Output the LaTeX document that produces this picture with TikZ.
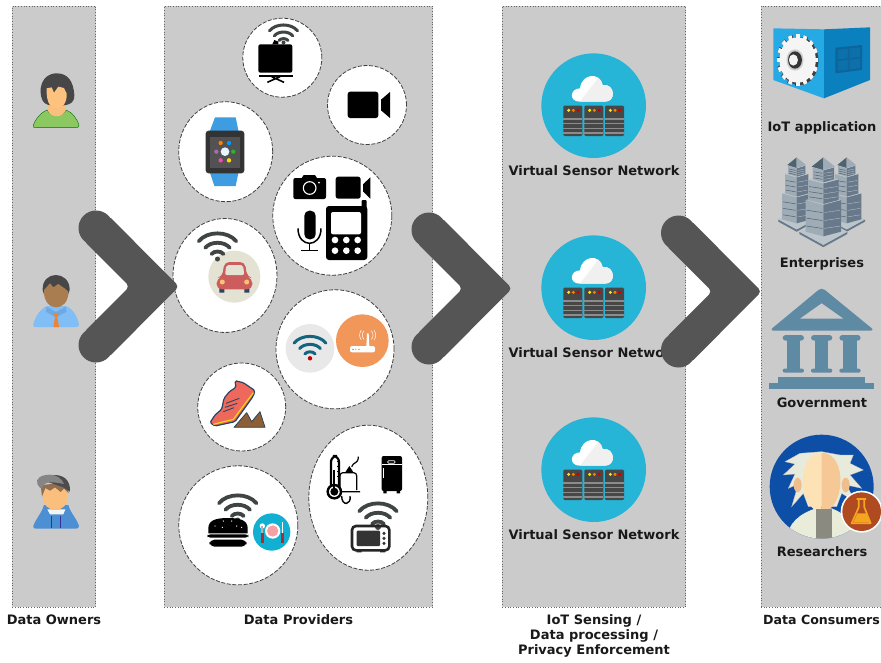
\documentclass[tikz,border=0pt]{standalone}
\usepackage{fontspec}
\setmainfont{DejaVu Sans}
\usetikzlibrary{shapes.geometric}
\definecolor{panelgray}{HTML}{CBCBCB}
\definecolor{chev}{HTML}{555555}
\definecolor{wifigray}{HTML}{3F4543}
\definecolor{teal1}{HTML}{11657F}
\definecolor{sky}{HTML}{26B5D6}
\definecolor{govblue}{HTML}{5F8AA3}
\definecolor{navy}{HTML}{2B4560}
\tikzset{
  panel/.style={draw=gray!80!black,dotted,line width=.7pt,fill=panelgray},
  bubble/.style={draw=black!75,dash pattern=on 4pt off 1.6pt,line width=.8pt,fill=white,ellipse,inner sep=0pt},
  label/.style={font=\fontsize{13}{15}\selectfont\bfseries,text=black!90,inner sep=0pt,align=center},
  chevron/.style={fill=chev,rounded corners=4pt},
  z1/.style={shift={(165,0)},scale=1/3},
  z2/.style={shift={(165,290)},scale=1/3},
  z3/.style={shift={(750,0)},scale=1/3},
  z4/.style={shift={(750,280)},scale=1/3},
  z5/.style={shift={(0,60)},scale=1/3},
  z7/.style={shift={(0,460)},scale=1/3}
}
\newcommand{\wifiicon}[5]{% x y scale colour width
  \begin{scope}[shift={(#1,#2)},scale=#3]
    \draw[#4,line width=#5,line cap=round] (-14.1,-14.1) .. controls (-7.8,-22) and (7.8,-22) .. (14.1,-14.1);
    \draw[#4,line width=#5,line cap=round] (-9.2,-9.2) .. controls (-5.1,-14.2) and (5.1,-14.2) .. (9.2,-9.2);
    \draw[#4,line width=#5,line cap=round] (-4.5,-4.5) .. controls (-2.5,-7) and (2.5,-7) .. (4.5,-4.5);
  \end{scope}}
\newcommand{\chevronshape}[2]{% sharp tip x y
  \begin{scope}[shift={(#1,#2)}]
    \fill[chev] (-83,-58.5) circle[radius=17.5] (-83,58.5) circle[radius=17.5];
    \fill[chevron] (0,0) -- (-70.6,-71) -- (-95.4,-46.1) -- (-49.5,0) -- (-95.4,46.1) -- (-70.6,71) -- cycle;
  \end{scope}}
\newcommand{\vsnicon}[1]{%
  \begin{scope}[shift={(500,#1)},scale=1/3]
    \fill[sky] (281,197) circle[radius=157];
    \fill[white] (240,185) .. controls (205,185) and (210,145) .. (240,145)
      .. controls (245,100) and (300,95) .. (308,135)
      .. controls (345,130) and (350,185) .. (315,185) -- cycle;
    \fill[black!6] (315,185) .. controls (350,185) and (345,130) .. (308,135) .. controls (306,125) and (300,118) .. (295,113) -- (240,185) -- cycle;
    \foreach \sx in {190,253,315} {
      \fill[black!72,rounded corners=1.2pt] (\sx,197) rectangle ++(57,91);
      \foreach \ly in {235,249,263,277} \fill[black!45] (\sx,\ly) rectangle ++(57,3.5);
      \fill[yellow!90!orange] (\sx+16,211) circle[radius=5];
      \fill[orange] (\sx+30,211) circle[radius=5];
      \fill[red!80!black] (\sx+44,211) circle[radius=5];
    }
  \end{scope}}
\definecolor{bleft}{HTML}{9FACB5}
\definecolor{bright}{HTML}{67798A}
\definecolor{bdark}{HTML}{4F6270}
\newcommand{\tier}[5]{% cx halfw ytop ybot slant
  \fill[bleft] (#1-#2,#3) -- (#1,#3+#5) -- (#1,#4+#5) -- (#1-#2,#4) -- cycle;
  \fill[bright] (#1+#2,#3) -- (#1,#3+#5) -- (#1,#4+#5) -- (#1+#2,#4) -- cycle;
  \fill[bleft!70!white] (#1-#2,#3) -- (#1,#3-#5) -- (#1+#2,#3) -- (#1,#3+#5) -- cycle;
  \foreach \wf in {.25,.5,.75} {
    \draw[bdark,line width=.5pt] (#1-#2+3,#3+#5*.5+\wf*#4-\wf*#3) -- (#1-3,#3+#5+\wf*#4-\wf*#3);
    \draw[black!20,line width=.3pt] (#1+3,#3+#5+\wf*#4-\wf*#3) -- (#1+#2-3,#3+#5*.5+\wf*#4-\wf*#3);
  }
}
\newcommand{\roofbase}[6]{% cx apexy halfw shouldery basehalf basey
  \fill[bright] (#1-#5,#6) -- (#1,#6+#5*.55) -- (#1+#5,#6) -- (#1+#5,#6+7) -- (#1,#6+#5*.55+7) -- (#1-#5,#6+7) -- cycle;
  \fill[bleft!70!white] (#1-#5,#6) -- (#1,#6-#5*.55) -- (#1+#5,#6) -- (#1,#6+#5*.55) -- cycle;
}
\begin{document}
\begin{tikzpicture}[x=1pt,y=-1pt]
\useasboundingbox (0,0) rectangle (881,662);
\clip (0,0) rectangle (881,662);
\fill[white] (0,0) rectangle (881,662);
% panels
\node[panel,minimum width=83.5pt,minimum height=601pt,inner sep=0pt] (owners) at (54,306.5) {};
\node[panel,minimum width=268.5pt,minimum height=601pt,inner sep=0pt] (providers) at (298.5,306.5) {};
\node[panel,minimum width=183.5pt,minimum height=601pt,inner sep=0pt] (sensing) at (594,306.5) {};
\node[panel,minimum width=130pt,minimum height=601pt,inner sep=0pt] (consumers) at (826,306.5) {};
% bubbles
\node[bubble,minimum width=79pt,minimum height=79pt] (c1) at (282.3,57.7) {};
\node[bubble,minimum width=79pt,minimum height=79pt] (c2) at (367,105) {};
\node[bubble,minimum width=94pt,minimum height=100pt] (c3) at (225.7,151.7) {};
\node[bubble,minimum width=119pt,minimum height=119pt] (c4) at (332.3,215.7) {};
\node[bubble,minimum width=104pt,minimum height=114pt] (c5) at (225,275.5) {};
\node[bubble,minimum width=118pt,minimum height=119pt] (c6) at (335,349.3) {};
\node[bubble,minimum width=88pt,minimum height=88pt] (c7) at (241.7,407) {};
\node[bubble,minimum width=119pt,minimum height=119pt] (c8) at (238.3,525.3) {};
\node[bubble,minimum width=119pt,minimum height=145pt] (c9) at (368.3,497.7) {};
% projector
\wifiicon{283.5}{45}{1}{wifigray}{3pt}
\fill[wifigray] (283.5,42.5) circle[radius=2];
\begin{scope}[z1]
  \fill[black,rounded corners=2pt] (280,133) rectangle (382,218);
  \fill[black] (328,120) -- (340,125) -- (340,133) -- (322,133) -- cycle;
  \fill[black] (282,224) rectangle (384,230);
  \draw[black,line width=1.6pt] (345,230) -- (307,247) (320,230) -- (357,247);
\end{scope}
% video camera
\begin{scope}[z1]
  \fill[black,rounded corners=2.5pt] (548,275) rectangle (640,354);
  \fill[black] (648,299) -- (675,276) -- (675,354) -- (648,331) -- cycle;
\end{scope}
% watch
\begin{scope}[z1]
  \fill[fill={rgb,255:red,61;green,157;blue,224}] (150,352) -- (212,352) -- (222,400) -- (132,400) -- cycle;
  \fill[fill={rgb,255:red,61;green,157;blue,224}] (132,510) -- (222,510) -- (212,558) -- (148,558) -- cycle;
  \fill[black!80,rounded corners=3pt] (122,392) rectangle (238,520);
  \fill[black!68] (135,410) rectangle (225,503);
  \fill[cyan!10!white] (180,455) circle[radius=13];
  \fill[orange] (167,429) circle[radius=6.5];
  \fill[blue!40!cyan] (192,429) circle[radius=6.5];
  \fill[violet!60] (154,455) circle[radius=6.5];
  \fill[green!60!black!80] (205,455) circle[radius=6.5];
  \fill[magenta!70] (167,481) circle[radius=6.5];
  \fill[yellow!80!orange] (192,481) circle[radius=6.5];
\end{scope}
% camera, video, mic, phone
\begin{scope}[z1]
  \fill[black,rounded corners=2pt] (385,534) rectangle (483,597);
  \fill[black] (410,534) -- (416,525) -- (450,525) -- (456,534) -- cycle;
  \draw[white,line width=1.1pt] (434,564) circle[radius=19];
  \fill[white] (462,548) circle[radius=3];
  \fill[black,rounded corners=2.5pt] (512,530) rectangle (587,596);
  \fill[black] (594,553) -- (616,532) -- (616,596) -- (594,574) -- cycle;
  \fill[black,rounded corners=5pt] (418,632) rectangle (452,718);
  \draw[black,line width=1.5pt] (399,685) .. controls (399,745) and (468,745) .. (468,685);
  \draw[black,line width=1.5pt] (433,732) -- (433,752) (408,752) -- (458,752);
  \fill[black,rounded corners=3pt] (483,618) rectangle (607,780);
  \fill[black,rounded corners=1pt] (590,600) rectangle (605,625);
  \fill[white,rounded corners=2pt] (498,636) rectangle (588,703);
  \foreach \bx in {510,544,578} \foreach \by in {720,752} \fill[white] (\bx,\by) circle[radius=10];
\end{scope}
% car
\begin{scope}[z1]
  \fill[fill={rgb,255:red,227;green,226;blue,211}] (208,830) circle[radius=78];
\end{scope}
\wifiicon{217.5}{260}{1.33}{wifigray}{3.8pt}
\fill[wifigray] (217.5,259) circle[radius=2.5];
\begin{scope}[z1]
  \fill[navy] (163,860) rectangle (178,878) (238,860) rectangle (253,878);
  \fill[fill={rgb,255:red,205;green,92;blue,92},rounded corners=5pt] (172,830) -- (178,786) -- (240,786) -- (246,830) -- (262,835) -- (262,868) -- (155,868) -- (155,835) -- cycle;
  \fill[fill={rgb,255:red,227;green,226;blue,211},rounded corners=2pt] (184,795) -- (234,795) -- (238,825) -- (180,825) -- cycle;
  \fill[fill={rgb,255:red,250;green,196;blue,110}] (172,846) circle[radius=7.5] (245,846) circle[radius=7.5];
\end{scope}
% wifi + router
\begin{scope}[z2]
  \fill[black!9] (435,175) circle[radius=73];
  \fill[fill={rgb,255:red,242;green,151;blue,90}] (592,152) circle[radius=79];
  \fill[white,rounded corners=2pt] (555,168) rectangle (630,187);
  \fill[white] (604,168) -- (606,130) -- (611,130) -- (613,168) -- cycle;
  \draw[white,line width=.5pt] (597,122) .. controls (590,132) and (590,140) .. (597,148)
    (619,122) .. controls (626,132) and (626,140) .. (619,148)
    (589,120) .. controls (582,132) and (582,140) .. (589,150)
    (627,120) .. controls (634,132) and (634,140) .. (627,150);
  \fill[cyan!70!black] (564,178) circle[radius=2.5];
  \fill[cyan!50] (572,178) circle[radius=2.5];
  \fill[orange] (582,178) circle[radius=2.5];
\end{scope}
\wifiicon{310}{359}{1.13}{teal1}{3pt}
\fill[red!80!black] (310,358.3) circle[radius=2.2];
% shoe
\begin{scope}[shift={(200,370)},scale=1/3]
  \fill[draw=navy,line width=1.2pt,rounded corners=1.5pt,fill={rgb,255:red,238;green,105;blue,92}] (105,32) -- (130,38) -- (165,62) -- (160,78) -- (105,155) -- (45,168) -- (30,158) -- (45,135) -- (65,118) -- (72,85) -- (88,65) -- (108,52) -- cycle;
  \draw[draw=yellow!80!orange,line width=1.1pt] (160,68) -- (100,148) -- (40,163);
  \draw[draw=navy,line width=.9pt] (78,100) -- (118,85) (75,112) -- (112,100) (70,125) -- (102,113);
  \fill[draw=navy,line width=.8pt,line join=round,fill={rgb,255:red,140;green,95;blue,55}] (102,172) -- (140,128) -- (155,155) -- (180,125) -- (195,172) -- cycle;
\end{scope}
% burger + plate
\wifiicon{237.7}{522}{1.33}{wifigray}{3.8pt}
\fill[wifigray] (237.7,520) circle[radius=2.5];
\begin{scope}[z2]
  \fill[black] (130,730) -- (130,715) .. controls (130,692) and (150,684) .. (189,684) .. controls (228,684) and (248,692) .. (248,715) -- (248,730) -- cycle;
  \foreach \dx/\dy in {150/708,175/693,200/693,172/712,215/708,230/712} \fill[white] (\dx,\dy) circle[radius=2];
  \fill[black,rounded corners=3pt] (127,733) rectangle (250,743);
  \fill[black,rounded corners=5pt] (133,749) rectangle (245,770);
  \fill[fill={rgb,255:red,17;green,176;blue,210}] (320,726) circle[radius=56];
  \fill[white] (323,723) circle[radius=23];
  \fill[fill={rgb,255:red,244;green,160;blue,165}] (323,723) circle[radius=17];
  \fill[white] (292,708) circle[radius=8];
  \fill[black!30] (289,708) rectangle (295,760);
  \fill[fill={rgb,255:red,160;green,50;blue,50}] (288,730) rectangle (296,760);
  \fill[white] (351,697) -- (355,697) -- (355,730) -- (351,730) -- cycle;
  \fill[fill={rgb,255:red,160;green,50;blue,50}] (349,730) rectangle (357,760);
\end{scope}
% appliances
\begin{scope}[z2]
  \draw[black,line width=2.2pt,rounded corners=6pt] (498,588) -- (498,498) -- (522,498) -- (522,588);
  \draw[black,line width=2.4pt,fill=white] (508,605) circle[radius=20];
  \fill[black] (508,605) circle[radius=12];
  \fill[black] (505,540) rectangle (511,600);
  \draw[black,line width=.9pt] (522,515) -- (515,515) (522,530) -- (515,530) (522,545) -- (515,545) (522,560) -- (515,560);
  \draw[black,line width=1.2pt,rounded corners=3pt] (525,600) -- (525,548) -- (575,548) -- (575,600) (527,605) -- (585,605) (560,530) .. controls (565,515) and (580,522) .. (580,500);
  \fill[black] (540,548) -- (553,528) -- (566,548) -- cycle;
  \draw[black,line width=1.4pt] (530,618) .. controls (530,650) and (560,645) .. (555,618);
  \fill[black,rounded corners=2pt] (650,498) rectangle (711,603);
  \fill[white] (650,522) rectangle (711,524);
  \draw[white,line width=.8pt,rounded corners=1pt] (668,512) rectangle (690,520);
  \draw[white,line width=.8pt] (656,535) -- (656,565);
  \fill[black] (655,603) rectangle (665,610) (695,603) rectangle (705,610);
\end{scope}
\wifiicon{378}{530}{1.33}{wifigray}{3.8pt}
\fill[wifigray] (378,527) circle[radius=3];
\begin{scope}[z2]
  \draw[black!85,line width=2.6pt,rounded corners=4pt] (561,708) rectangle (673,781);
  \fill[black!80,rounded corners=1pt] (575,722) rectangle (645,768);
  \foreach \my in {730,745,760} \fill[black!80] (657,\my) circle[radius=5];
  \fill[black!85] (575,781) rectangle (590,787) (645,781) rectangle (660,787);
\end{scope}
% persons
\begin{scope}[z5]
  % woman
  \fill[draw=green!45!black,line width=.4pt,fill={rgb,255:red,140;green,200;blue,98}] (100,196) .. controls (105,178) and (125,155) .. (142,150) .. controls (150,172) and (190,172) .. (198,150) .. controls (215,155) and (233,178) .. (237,196) .. controls (238,202) and (232,203) .. (228,203) -- (108,203) .. controls (102,203) and (98,202) .. (100,196) -- cycle;
  \fill[fill={rgb,255:red,250;green,190;blue,125}] (143,130) rectangle (195,152);
  \fill[fill={rgb,255:red,250;green,190;blue,125}] (143,150) .. controls (150,175) and (190,175) .. (197,150) -- cycle;
  \fill[black!72] (170,40) .. controls (125,40) and (112,90) .. (128,122) .. controls (135,135) and (150,138) .. (170,136) .. controls (195,138) and (225,135) .. (223,105) .. controls (220,65) and (205,40) .. (170,40) -- cycle;
  \fill[fill={rgb,255:red,252;green,194;blue,126}] (140,85) -- (155,82) -- (162,98) -- (175,80) -- (192,84) -- (200,100) .. controls (202,130) and (185,146) .. (170,146) .. controls (153,146) and (138,130) .. (140,85) -- cycle;
  % man
  \fill[fill={rgb,255:red,128;green,190;blue,245}] (100,794) .. controls (105,770) and (122,745) .. (142,738) -- (197,738) .. controls (218,745) and (233,770) .. (237,794) .. controls (238,800) and (232,801) .. (228,801) -- (108,801) .. controls (102,801) and (98,800) .. (100,794) -- cycle;
  \fill[fill={rgb,255:red,110;green,170;blue,225}] (140,740) -- (168,756) -- (197,740) -- (200,755) -- (175,768) -- (168,762) -- (160,768) -- (138,755) -- cycle;
  \fill[fill={rgb,255:red,238;green,132;blue,50}] (160,760) -- (176,760) -- (172,772) -- (177,801) -- (160,801) -- (165,772) -- cycle;
  \fill[black!72] (128,690) .. controls (125,630) and (210,630) .. (209,690) .. controls (205,730) and (130,730) .. (128,690) -- cycle;
  \fill[fill={rgb,255:red,170;green,125;blue,80}] (132,690) -- (150,670) -- (160,682) -- (175,672) -- (195,686) -- (205,695) .. controls (205,730) and (185,742) .. (168,742) .. controls (150,742) and (130,725) .. (132,690) -- cycle;
\end{scope}
\begin{scope}[z7]
  % boy
  \fill[fill={rgb,255:red,76;green,143;blue,211}] (100,198) .. controls (108,175) and (125,160) .. (132,135) -- (205,135) .. controls (212,160) and (230,175) .. (237,198) .. controls (238,204) and (232,206) .. (228,206) -- (108,206) .. controls (102,206) and (98,204) .. (100,198) -- cycle;
  \fill[white!92!gray] (142,148) -- (196,148) -- (190,163) -- (150,163) -- cycle;
  \draw[blue!50!black!80,line width=.4pt] (155,168) -- (155,205) (180,168) -- (180,205);
  \fill[fill={rgb,255:red,250;green,190;blue,125}] (128,105) .. controls (126,165) and (206,165) .. (204,105) .. controls (204,60) and (128,60) .. (128,105) -- cycle;
  \fill[fill={rgb,255:red,145;green,110;blue,80}] (126,110) -- (122,75) -- (200,68) -- (206,100) -- (192,86) -- (182,96) -- (165,82) -- (150,92) -- (136,84) -- cycle;
  \fill[black!70] (150,46) .. controls (190,40) and (212,60) .. (210,95) -- (190,82) -- (140,65) -- cycle;
  \fill[black!48] (150,44) .. controls (125,44) and (105,55) .. (112,72) .. controls (120,85) and (125,90) .. (128,80) .. controls (132,68) and (145,62) .. (192,72) .. controls (185,55) and (170,45) .. (150,44) -- cycle;
\end{scope}
% virtual sensor network icons
\vsnicon{40}
\vsnicon{222}
\vsnicon{404}
% IoT application cube
\begin{scope}[z3]
  \fill[fill={rgb,255:red,38;green,170;blue,230}] (70,85) -- (222,88) -- (222,295) -- (70,240) -- cycle;
  \fill[fill={rgb,255:red,10;green,128;blue,190}] (222,88) -- (360,82) -- (360,240) -- (222,295) -- cycle;
  \fill[fill={rgb,255:red,14;green,100;blue,155}] (256,143) -- (336,135) -- (336,210) -- (256,220) -- cycle;
  \fill[fill={rgb,255:red,12;green,112;blue,170}] (263,149) -- (330,142) -- (330,204) -- (263,213) -- cycle;
  \draw[draw={rgb,255:red,14;green,100;blue,155},line width=1.4pt] (296,145) -- (296,209) (263,181) -- (330,173);
  \begin{scope}[shift={(143,180)},xscale=.8]
    \fill[black!75] (6,3) circle[radius=72];
    \foreach \ang in {0,22.5,...,337.5} \fill[black!75,rotate=\ang] (-6,-78) rectangle ++(16,20);
    \fill[white!92!gray] (0,0) circle[radius=68];
    \foreach \ang in {0,22.5,...,337.5} \fill[white!92!gray,rotate=\ang] (-7,-78) rectangle ++(14,20);
    \fill[black!20] (-10,0) circle[radius=32];
    \fill[black!80] (-10,0) circle[radius=26];
    \fill[white!90!gray] (-16,0) circle[radius=17];
  \end{scope}
\end{scope}
% Enterprises towers
\begin{scope}[shift={(770,150)},scale=1/3]
  \foreach \tx in {80,230} {
    \roofbase{\tx}{22}{28}{45}{55}{208}
    \tier{\tx}{44}{130}{208}{12}
    \tier{\tx}{35}{72}{130}{10}
    \tier{\tx}{26}{47}{72}{8}
    \fill[bdark] (\tx-28,45) -- (\tx,22) -- (\tx,54) -- cycle;
    \fill[bleft] (\tx+28,45) -- (\tx,22) -- (\tx,54) -- cycle;
  }
  \roofbase{160}{22}{35}{50}{72}{245}
  \tier{160}{53}{150}{245}{14}
  \tier{160}{46}{88}{150}{12}
  \tier{160}{32}{52}{88}{9}
  \fill[bdark] (125,50) -- (160,22) -- (160,60) -- cycle;
  \fill[bleft] (195,50) -- (160,22) -- (160,60) -- cycle;
\end{scope}
% Government
\begin{scope}[z4]
  \fill[govblue,rounded corners=4pt] (215,22) -- (374,152) -- (58,152) -- cycle;
  \fill[panelgray] (215,70) -- (280,116) -- (150,116) -- cycle;
  \foreach \cx in {130,215,300} {
    \fill[govblue,rounded corners=3pt] (\cx-32,165) rectangle (\cx+32,182);
    \fill[govblue] (\cx-20,180) rectangle (\cx+20,268);
    \fill[govblue,rounded corners=2pt] (\cx-32,266) rectangle (\cx+32,278);
  }
  \fill[govblue] (85,290) rectangle (345,308);
  \fill[govblue] (58,308) rectangle (372,327);
\end{scope}
% Researcher
\begin{scope}[z4]
  \fill[fill={rgb,255:red,13;green,78;blue,166}] (215,620) circle[radius=156];
  \begin{scope}
    \clip (215,620) circle[radius=156];
    \fill[fill={rgb,255:red,232;green,236;blue,216}] (110,780) .. controls (112,730) and (150,700) .. (198,685) -- (245,685) .. controls (285,700) and (330,740) .. (330,780) -- cycle;
    \fill[fill={rgb,255:red,232;green,234;blue,220},draw=black!25,line width=.3pt] (150,520) -- (105,545) -- (135,552) -- (100,585) -- (135,582) -- (115,625) -- (145,612) -- (125,680) -- (160,640) -- (175,680) -- (260,680) -- (275,640) -- (315,665) -- (290,615) -- (335,625) -- (300,585) -- (340,570) -- (300,550) -- (310,525) -- (270,525) -- (215,515) -- cycle;
    \fill[fill={rgb,255:red,240;green,190;blue,140}] (143,615) ellipse[x radius=12,y radius=22];
    \fill[fill={rgb,255:red,240;green,190;blue,140}] (287,615) ellipse[x radius=12,y radius=22];
    \fill[fill={rgb,255:red,253;green,226;blue,181}] (215,518) .. controls (135,518) and (145,695) .. (215,695) -- cycle;
    \fill[fill={rgb,255:red,245;green,200;blue,150}] (215,518) .. controls (295,518) and (285,695) .. (215,695) -- cycle;
    \fill[fill={rgb,255:red,138;green,138;blue,128}] (197,688) rectangle (246,780);
  \end{scope}
  \fill[white] (335,695) circle[radius=63];
  \fill[fill={rgb,255:red,176;green,74;blue,32}] (335,695) circle[radius=58];
  \draw[draw={rgb,255:red,245;green,165;blue,30},line width=1.7pt,line join=round] (320,657) -- (348,657) (326,657) -- (326,682) -- (305,730) -- (362,730) -- (343,682) -- (343,657);
  \fill[fill={rgb,255:red,245;green,165;blue,30}] (322,700) -- (350,700) -- (359,727) -- (310,727) -- cycle;
\end{scope}
% texts
\node[label] (t1) at (594,171) {Virtual Sensor Network};
\node[label] (t2) at (594,353) {Virtual Sensor Network};
\node[label] (t3) at (594,535) {Virtual Sensor Network};
\node[label] (t4) at (822,127.5) {IoT application};
\node[label] (t5) at (822,263.5) {Enterprises};
\node[label] (t6) at (822,403) {Government};
\node[label] (t7) at (822,552) {Researchers};
\node[label] (l1) at (54,619.5) {Data Owners};
\node[label] (l2) at (298.5,620) {Data Providers};
\node[label] (l3) at (594,635.5) {IoT Sensing /\\Data processing /\\Privacy Enforcement};
\node[label,font=\fontsize{12.6}{15}\selectfont\bfseries,anchor=west] (l4) at (763,619.5) {Data Consumers};
% chevrons
\chevronshape{179}{286.5}
\chevronshape{512}{288.5}
\chevronshape{761.5}{291.5}
\end{tikzpicture}
\end{document}
